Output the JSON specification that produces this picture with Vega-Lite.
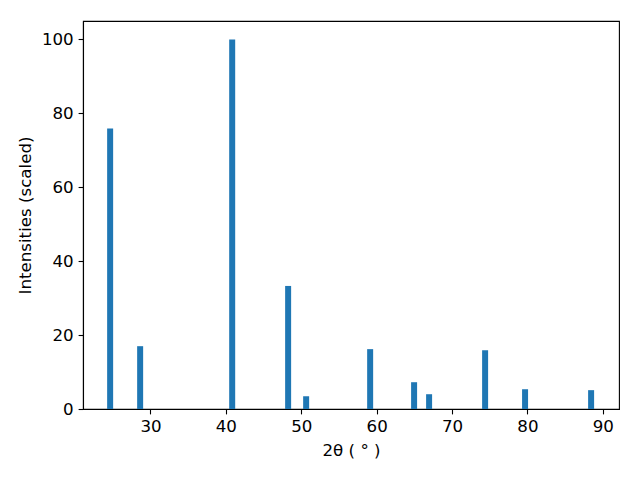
{
  "$schema": "https://vega.github.io/schema/vega-lite/v6.json",
  "autosize": {"type": "none"},
  "padding": {"left": 83, "top": 21, "right": 21, "bottom": 71},
  "width": 536,
  "height": 388,
  "background": "white",
  "config": {
    "font": "DejaVu Sans",
    "view": {"stroke": "black", "strokeWidth": 1.1},
    "axis": {
      "grid": false,
      "domainColor": "black",
      "domainWidth": 1.1,
      "tickColor": "black",
      "tickWidth": 1.1,
      "tickSize": 4.9,
      "labelPadding": 4.9,
      "labelFont": "DejaVu Sans",
      "labelFontSize": 16.67,
      "labelColor": "black",
      "titleFont": "DejaVu Sans",
      "titleFontSize": 16.67,
      "titleFontWeight": "normal",
      "titleColor": "black"
    }
  },
  "data": {
    "values": [
      {"two_theta": 24.65, "intensity": 75.9},
      {"two_theta": 28.63, "intensity": 17.0},
      {"two_theta": 40.84, "intensity": 100.0},
      {"two_theta": 48.26, "intensity": 33.3},
      {"two_theta": 50.65, "intensity": 3.45},
      {"two_theta": 59.14, "intensity": 16.2},
      {"two_theta": 64.97, "intensity": 7.25},
      {"two_theta": 66.96, "intensity": 4.0},
      {"two_theta": 74.39, "intensity": 15.9},
      {"two_theta": 79.69, "intensity": 5.35},
      {"two_theta": 88.45, "intensity": 5.1}
    ]
  },
  "mark": {"type": "bar", "width": 6, "color": "#1f77b4"},
  "encoding": {
    "x": {
      "field": "two_theta",
      "type": "quantitative",
      "scale": {"domain": [21.05, 92.15], "nice": false, "zero": false, "padding": 0},
      "axis": {"values": [30, 40, 50, 60, 70, 80, 90], "title": "2θ ( ° )", "titlePadding": 7, "labelFlush": false}
    },
    "y": {
      "field": "intensity",
      "type": "quantitative",
      "scale": {"domain": [0, 105], "nice": false, "padding": 0},
      "axis": {"values": [0, 20, 40, 60, 80, 100], "title": "Intensities (scaled)", "titlePadding": 7, "labelFlush": false}
    }
  }
}
